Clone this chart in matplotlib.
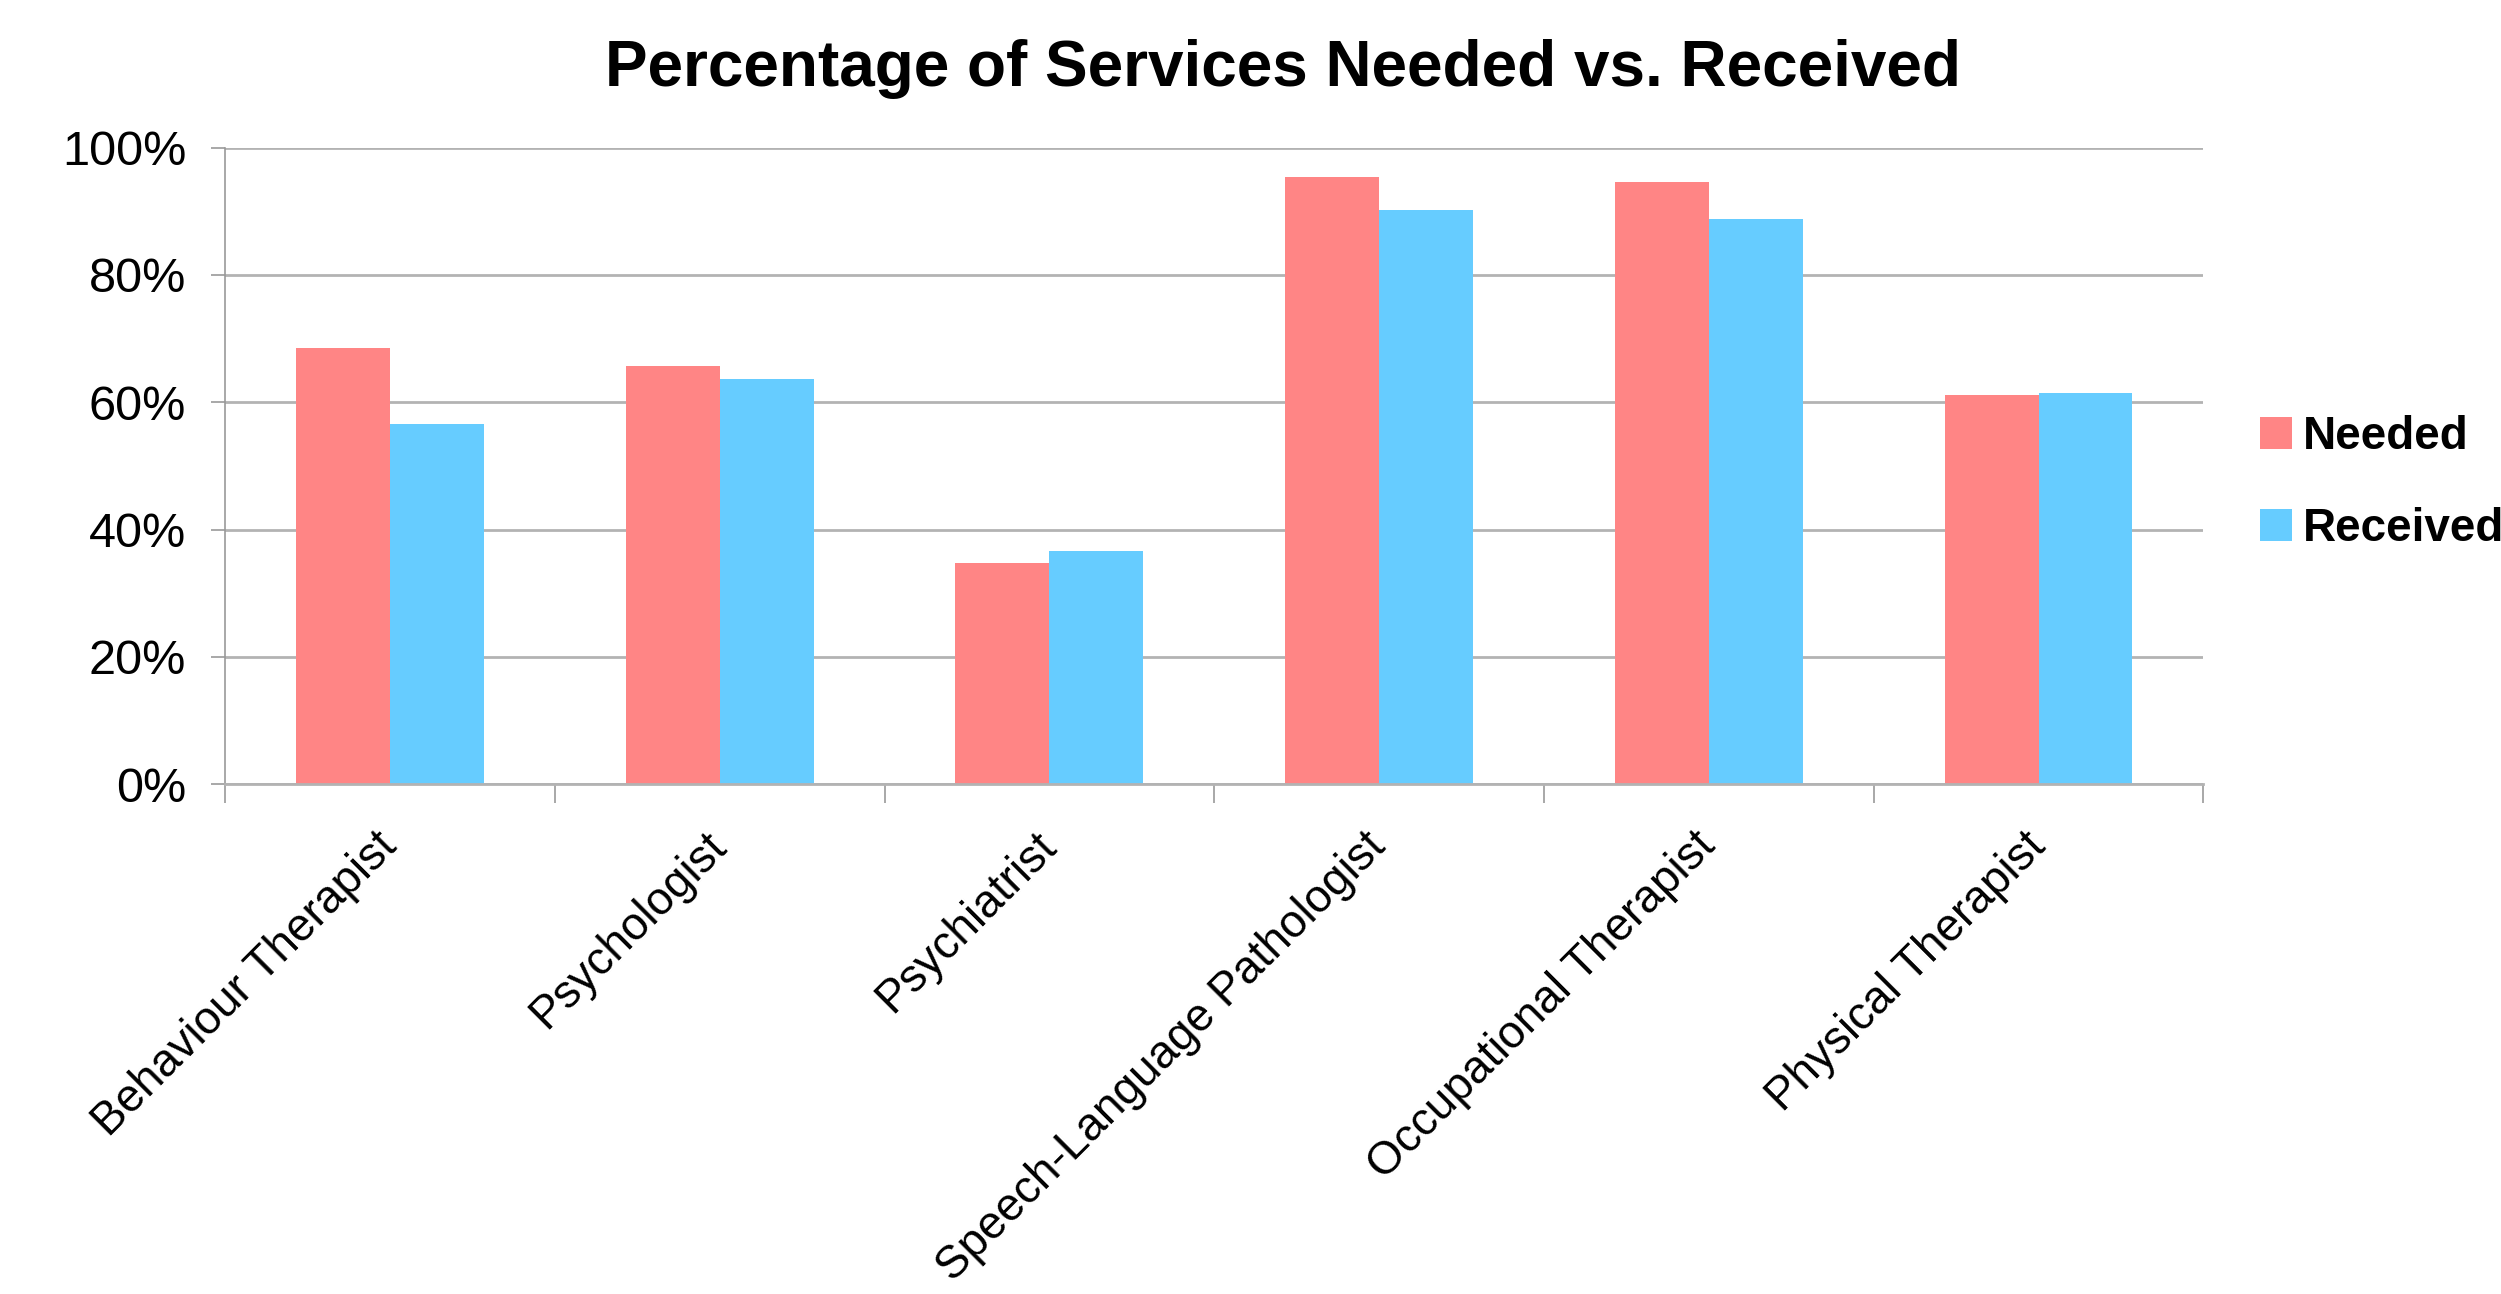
import matplotlib.pyplot as plt
import numpy as np

plt.rcParams['font.family'] = ['Liberation Sans', 'DejaVu Sans']

# Data (percent)
categories = ['Behaviour Therapist', 'Psychologist', 'Psychiatrist',
              'Speech-Language Pathologist', 'Occupational Therapist',
              'Physical Therapist']
needed = [68.5, 65.7, 34.7, 95.4, 94.6, 61.2]
received = [56.6, 63.7, 36.7, 90.2, 88.8, 61.5]
series_names = ['Needed', 'Received']
colors = ['#FF8585', '#66CCFF']

fig = plt.figure(figsize=(25.01, 12.94), dpi=100)
ax = fig.add_axes([0.09, 0.394, 0.791, 0.492])

x = np.arange(len(categories))
w = 0.285
ax.bar(x - w / 2, needed, w, color=colors[0], label=series_names[0], zorder=2)
ax.bar(x + w / 2, received, w, color=colors[1], label=series_names[1], zorder=2)

ax.set_xlim(-0.5, len(categories) - 0.5)
ax.set_ylim(0, 100)
ax.set_yticks(np.arange(0, 101, 20))
ax.set_yticklabels([f'{v}%' for v in range(0, 101, 20)], fontsize=35)
ax.yaxis.grid(True, color='#b3b3b3', linewidth=2, zorder=0)
ax.set_axisbelow(True)

# category boundary ticks, labels at centers
ax.set_xticks(np.arange(-0.5, len(categories), 1.0))
ax.set_xticklabels([])
ax.set_xticks(x, minor=True)
ax.set_xticklabels(categories, minor=True, rotation=45, ha='right',
                   va='center', rotation_mode='anchor', fontsize=33)
ax.tick_params(axis='x', which='major', length=14, width=1.2, color='#999999')
ax.tick_params(axis='x', which='minor', length=0, pad=40)
ax.tick_params(axis='y', length=10, width=1.2, color='#999999', pad=18)

for s in ['top', 'right']:
    ax.spines[s].set_visible(False)
ax.spines['left'].set_color('#999999')
ax.spines['left'].set_linewidth(1.2)
ax.spines['bottom'].set_color('#b3b3b3')
ax.spines['bottom'].set_linewidth(2)

fig.text(0.513, 0.947, 'Percentage of Services Needed vs. Received',
         ha='center', va='center', fontsize=46, fontweight='bold')

leg = fig.legend(loc='center left', bbox_to_anchor=(0.887, 0.627),
                 frameon=False, handlelength=0.7, handleheight=0.7,
                 handletextpad=0.25, labelspacing=1.05,
                 prop={'size': 33, 'weight': 'bold'})

fig.savefig('out.png', dpi=100)
